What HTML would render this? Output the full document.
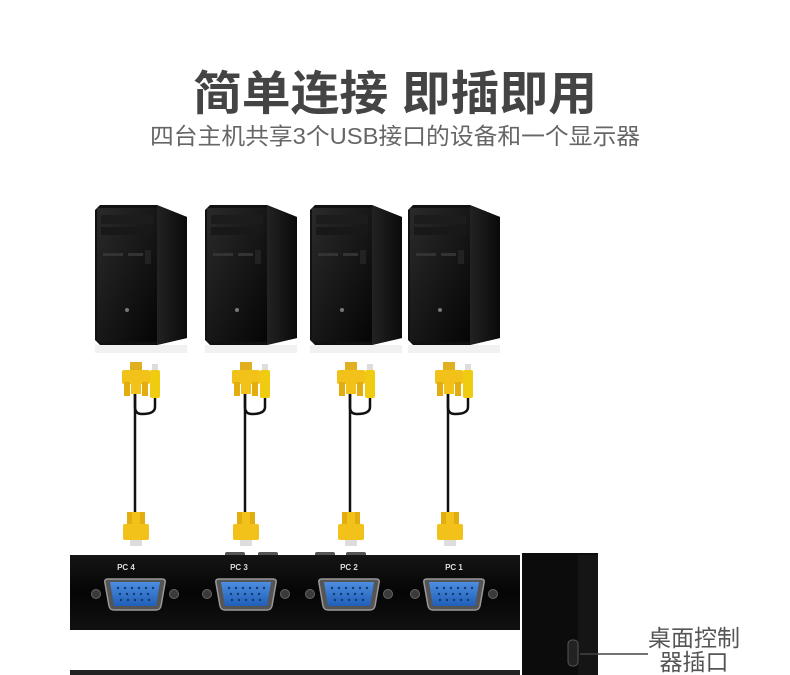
<!DOCTYPE html>
<html><head><meta charset="utf-8"><style>
html,body{margin:0;padding:0;background:#fff;width:790px;height:675px;overflow:hidden}
svg{display:block}
text{font-family:"Liberation Sans","Noto Sans CJK SC",sans-serif}
</style></head><body>
<svg width="790" height="675" viewBox="0 0 790 675" xmlns="http://www.w3.org/2000/svg">
<defs>
<linearGradient id="front" x1="0" y1="0" x2="1" y2="1"><stop offset="0" stop-color="#2a2a2a"/><stop offset="1" stop-color="#050505"/></linearGradient>
<linearGradient id="side" x1="0" y1="0" x2="1" y2="0"><stop offset="0" stop-color="#222"/><stop offset="1" stop-color="#0a0a0a"/></linearGradient>
<linearGradient id="box" x1="0" y1="0" x2="0" y2="1"><stop offset="0" stop-color="#151515"/><stop offset="0.5" stop-color="#050505"/><stop offset="1" stop-color="#111"/></linearGradient>
<linearGradient id="vga" x1="0" y1="0" x2="0" y2="1"><stop offset="0" stop-color="#4d8ee0"/><stop offset="1" stop-color="#1f5fb8"/></linearGradient>
<g id="pc">
  <polygon points="0,5 5,0 62,0 92,12 92,133 62,140 5,140 0,135" fill="#111"/>
  <polygon points="62,0 92,12 92,133 62,140" fill="url(#side)"/>
  <rect x="2" y="3" width="60" height="134" fill="url(#front)"/>
  <rect x="6" y="10" width="52" height="9" fill="#1c1c1c"/>
  <rect x="6" y="22" width="52" height="8" fill="#181818"/>
  <rect x="8" y="48" width="20" height="3" fill="#333"/>
  <rect x="33" y="48" width="15" height="3" fill="#333"/>
  <rect x="50" y="45" width="6" height="14" fill="#222"/>
  <circle cx="32" cy="105" r="2" fill="#777"/>
  <rect x="0" y="140" width="92" height="8" fill="#e8e8e8" opacity="0.6"/>
</g>
<g id="top">
  <rect x="8" y="0" width="12" height="8" fill="#e0b020"/>
  <rect x="0" y="8" width="28" height="14" rx="2" fill="#f2c21a"/>
  <rect x="2" y="20" width="6" height="14" fill="#e3ad10"/>
  <rect x="20" y="20" width="6" height="14" fill="#e3ad10"/>
  <rect x="9" y="20" width="10" height="12" fill="#f2c21a"/>
  <rect x="30" y="2" width="6" height="8" fill="#ddd"/>
  <rect x="28" y="8" width="10" height="28" rx="2" fill="#f0cc10"/>
  <path d="M13,32 V45 Q13,52 20,52 Q33,52 33,45 V36" fill="none" stroke="#111" stroke-width="2.5"/>
  <line x1="13" y1="32" x2="13" y2="150" stroke="#111" stroke-width="2.5"/>
</g>
<g id="bot">
  <rect x="6" y="0" width="6" height="14" fill="#e3ad10"/>
  <rect x="18" y="0" width="6" height="14" fill="#e3ad10"/>
  <rect x="11" y="0" width="8" height="12" fill="#f2c21a"/>
  <rect x="2" y="12" width="26" height="16" rx="2" fill="#f2c21a"/>
  <rect x="9" y="28" width="12" height="6" fill="#ddd"/>
</g>
<g id="port">
  <circle cx="-10" cy="0" r="4.5" fill="#3a3a3a" stroke="#666" stroke-width="1"/>
  <circle cx="68" cy="0" r="4.5" fill="#3a3a3a" stroke="#666" stroke-width="1"/>
  <path d="M2,-15 H56 Q60,-15 59,-11 L55,12 Q54,16 50,16 H8 Q4,16 3,12 L-1,-11 Q-2,-15 2,-15 Z" fill="#555" stroke="#999" stroke-width="1.5"/>
  <path d="M4,-12 H54 L50,12 H8 Z" fill="url(#vga)"/>
  <g fill="#123a70">
    <circle cx="12" cy="-6" r="1.2"/><circle cx="19" cy="-6" r="1.2"/><circle cx="26" cy="-6" r="1.2"/><circle cx="33" cy="-6" r="1.2"/><circle cx="40" cy="-6" r="1.2"/><circle cx="47" cy="-6" r="1.2"/>
    <circle cx="14" cy="0" r="1.2"/><circle cx="21" cy="0" r="1.2"/><circle cx="28" cy="0" r="1.2"/><circle cx="35" cy="0" r="1.2"/><circle cx="42" cy="0" r="1.2"/>
    <circle cx="15" cy="6" r="1.2"/><circle cx="22" cy="6" r="1.2"/><circle cx="29" cy="6" r="1.2"/><circle cx="36" cy="6" r="1.2"/><circle cx="43" cy="6" r="1.2"/>
  </g>
</g>
</defs>

<text x="395" y="110" text-anchor="middle" font-size="47" fill="#444" font-weight="bold" textLength="404" lengthAdjust="spacingAndGlyphs">简单连接 即插即用</text>
<text x="395" y="144" text-anchor="middle" font-size="23" fill="#666" textLength="490" lengthAdjust="spacingAndGlyphs">四台主机共享3个USB接口的设备和一个显示器</text>

<use href="#pc" x="95" y="205"/>
<use href="#pc" x="205" y="205"/>
<use href="#pc" x="310" y="205"/>
<use href="#pc" x="408" y="205"/>

<use href="#top" x="122" y="362"/>
<use href="#top" x="232" y="362"/>
<use href="#top" x="337" y="362"/>
<use href="#top" x="435" y="362"/>
<use href="#bot" x="121" y="512"/>
<use href="#bot" x="231" y="512"/>
<use href="#bot" x="336" y="512"/>
<use href="#bot" x="435" y="512"/>

<rect x="225" y="552" width="20" height="5" rx="2" fill="#555"/>
<rect x="258" y="552" width="20" height="5" rx="2" fill="#555"/>
<rect x="315" y="552" width="20" height="5" rx="2" fill="#555"/>
<rect x="346" y="552" width="20" height="5" rx="2" fill="#555"/>
<rect x="70" y="555" width="450" height="75" fill="url(#box)"/>
<g font-size="8" fill="#ddd" font-weight="bold" text-anchor="middle">
<text x="126" y="570">PC 4</text><text x="239" y="570">PC 3</text><text x="349" y="570">PC 2</text><text x="454" y="570">PC 1</text>
</g>
<use href="#port" x="106" y="594"/>
<use href="#port" x="217" y="594"/>
<use href="#port" x="320" y="594"/>
<use href="#port" x="425" y="594"/>
<rect x="70" y="670" width="450" height="5" fill="#222"/>

<rect x="522" y="553" width="76" height="122" fill="#0c0c0c"/>
<rect x="578" y="555" width="20" height="120" fill="#151515"/>
<rect x="568" y="640" width="10" height="26" rx="4" fill="#222" stroke="#555" stroke-width="1"/>
<line x1="580" y1="654" x2="648" y2="654" stroke="#444" stroke-width="1.5"/>
<text x="694" y="646" text-anchor="middle" font-size="23" fill="#555">桌面控制</text>
<text x="694" y="670" text-anchor="middle" font-size="23" fill="#555">器插口</text>
</svg>
</body></html>
